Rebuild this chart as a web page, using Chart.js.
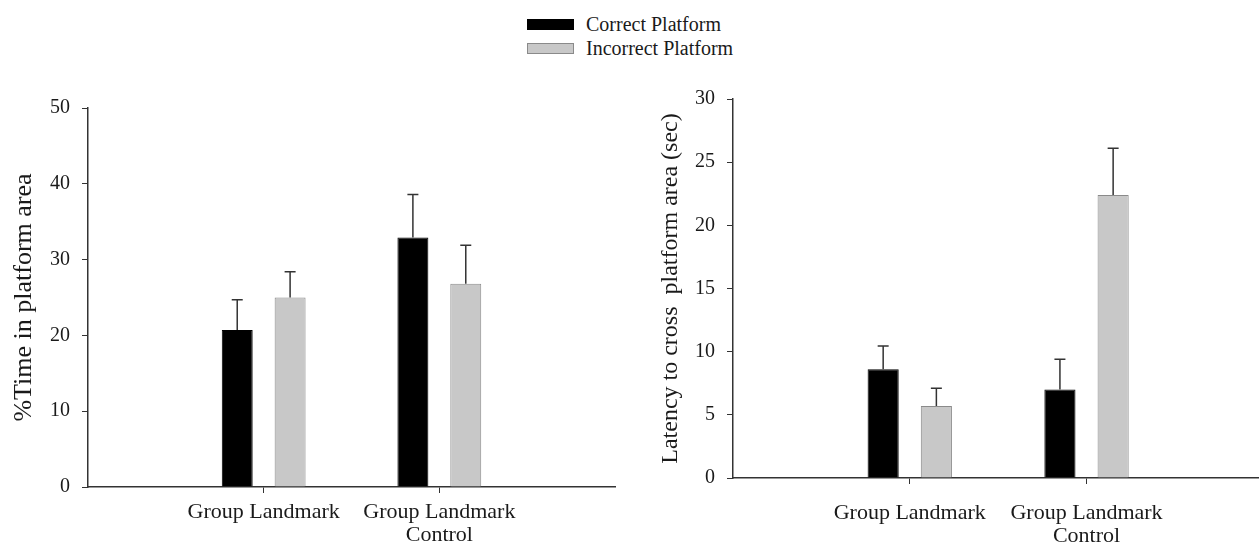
<!DOCTYPE html>
<html>
<head>
<meta charset="utf-8">
<script src="https://cdn.jsdelivr.net/npm/chart.js@4.4.1/dist/chart.umd.min.js"></script>
<style>
  body { margin: 0; background: #fff; }
  #stage { position: relative; width: 1259px; height: 545px; overflow: hidden; }
  .panel { position: absolute; top: 0; height: 545px; }
  #legend { position: absolute; left: 527px; top: 12px; font-family: 'Liberation Serif', serif; font-size: 20px; color: #1a1a1a; }
  .row { display: flex; align-items: center; height: 24px; }
  .sw { width: 47px; height: 11px; margin-right: 12px; box-sizing: border-box; }
</style>
</head>
<body>
<div id="stage">
  <div id="legend">
    <div class="row"><div class="sw" style="background:#000"></div>Correct Platform</div>
    <div class="row"><div class="sw" style="background:#c8c8c8;border:1px solid #8a8a8a"></div>Incorrect Platform</div>
  </div>
  <div class="panel" style="left:0;width:625px"><canvas id="leftChart"></canvas></div>
  <div class="panel" style="left:630px;width:629px"><canvas id="rightChart"></canvas></div>
</div>
<script>
// ---- data ----
const groups = ['Group Landmark', ['Group Landmark', 'Control']];
const seriesNames = ['Correct Platform', 'Incorrect Platform'];

// %Time in platform area
const timeCorrect = [20.7, 32.9];
const timeCorrectErr = [4.0, 5.7];
const timeIncorrect = [25.0, 26.8];
const timeIncorrectErr = [3.4, 5.1];
const timeTicks = [0, 10, 20, 30, 40, 50];

// Latency to cross platform area (sec)
const latCorrect = [8.6, 7.0];
const latCorrectErr = [1.85, 2.4];
const latIncorrect = [5.7, 22.4];
const latIncorrectErr = [1.4, 3.7];
const latTicks = [0, 5, 10, 15, 20, 25, 30];

const serif = 'Liberation Serif';
const ink = '#1a1a1a';

// upper-only error whiskers with a small cap
const errorBars = {
    id: 'errorBars',
    afterDatasetsDraw(chart) {
        const ctx = chart.ctx;
        const y = chart.scales.y;
        ctx.save();
        ctx.strokeStyle = '#333';
        ctx.lineWidth = 1.5;
        chart.data.datasets.forEach((ds, di) => {
            const meta = chart.getDatasetMeta(di);
            meta.data.forEach((bar, i) => {
                const top = y.getPixelForValue(ds.data[i].y + ds.errors[i]);
                ctx.beginPath();
                ctx.moveTo(bar.x, bar.y);
                ctx.lineTo(bar.x, top);
                ctx.moveTo(bar.x - 5.5, top);
                ctx.lineTo(bar.x + 5.5, top);
                ctx.stroke();
            });
        });
        ctx.restore();
    }
};

function points(vals) {
    return vals.map((v, i) => ({ x: i, y: v }));
}

function makeChart(id, cfg) {
    return new Chart(document.getElementById(id), {
        type: 'bar',
        data: {
            datasets: [
                {
                    label: seriesNames[0],
                    data: points(cfg.correct),
                    errors: cfg.correctErr,
                    backgroundColor: '#000',
                    borderColor: '#000',
                    borderWidth: 1
                },
                {
                    label: seriesNames[1],
                    data: points(cfg.incorrect),
                    errors: cfg.incorrectErr,
                    backgroundColor: '#c8c8c8',
                    borderColor: '#8a8a8a',
                    borderWidth: 1
                }
            ]
        },
        options: {
            responsive: true,
            maintainAspectRatio: false,
            animation: false,
            categoryPercentage: 0.602,
            barPercentage: 0.585,
            layout: { padding: { top: cfg.top, right: cfg.padRight, left: 0, bottom: 0 } },
            plugins: { legend: { display: false }, tooltip: { enabled: false } },
            scales: {
                x: {
                    type: 'linear',
                    min: -1,
                    max: cfg.xMax,
                    offset: false,
                    afterFit: s => { s.height = cfg.xHeight; },
                    afterBuildTicks: s => { s.ticks = groups.map((g, i) => ({ value: i })); },
                    border: { display: true, color: '#333', width: 1.5 },
                    grid: { offset: false, drawOnChartArea: false, drawTicks: true, tickLength: 6, color: '#333' },
                    ticks: {
                        maxRotation: 0,
                        autoSkip: false,
                        padding: cfg.xPad,
                        color: ink,
                        font: { family: serif, size: 22, lineHeight: 1.08 },
                        callback: v => groups[v]
                    }
                },
                y: {
                    min: 0,
                    max: cfg.ticks[cfg.ticks.length - 1],
                    afterFit: s => { s.width = cfg.yWidth; },
                    afterBuildTicks: s => { s.ticks = cfg.ticks.map(v => ({ value: v })); },
                    border: { display: true, color: '#333', width: 1.5 },
                    grid: { drawOnChartArea: false, drawTicks: true, tickLength: 6, color: '#333' },
                    ticks: { padding: 12, color: ink, font: { family: serif, size: 20 } },
                    title: {
                        display: true,
                        text: cfg.title,
                        color: ink,
                        font: { family: serif, size: cfg.titleSize, lineHeight: 1.2 },
                        padding: { top: cfg.titlePad, bottom: 0 }
                    }
                }
            }
        },
        plugins: [errorBars]
    });
}

makeChart('leftChart', {
    correct: timeCorrect, correctErr: timeCorrectErr,
    incorrect: timeIncorrect, incorrectErr: timeIncorrectErr,
    ticks: timeTicks, title: '%Time in platform area',
    top: 108, padRight: 10, xMax: 2, xHeight: 58, xPad: 7,
    yWidth: 88, titleSize: 26, titlePad: 9
});

makeChart('rightChart', {
    correct: latCorrect, correctErr: latCorrectErr,
    incorrect: latIncorrect, incorrectErr: latIncorrectErr,
    ticks: latTicks, title: 'Latency to cross  platform area (sec)',
    top: 99, padRight: 1, xMax: 1.97, xHeight: 67, xPad: 17,
    yWidth: 103, titleSize: 24, titlePad: 26
});
</script>
</body>
</html>
